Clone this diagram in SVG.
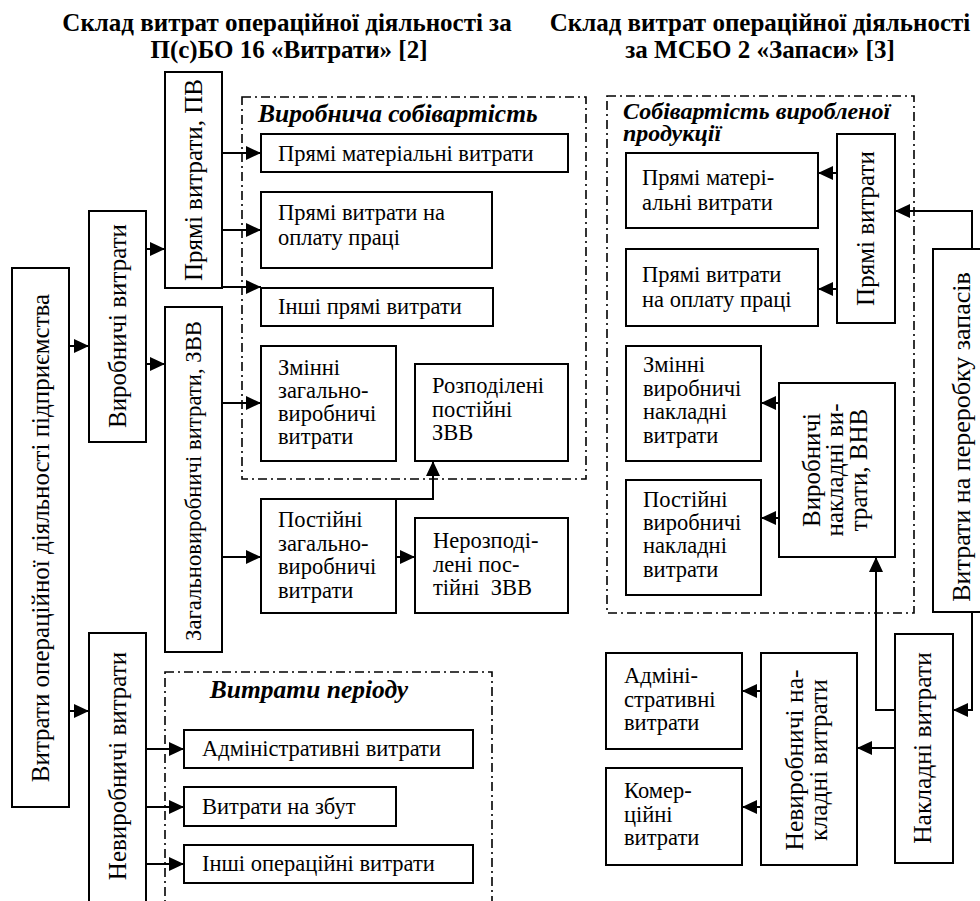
<svg xmlns="http://www.w3.org/2000/svg" width="980" height="901" viewBox="0 0 980 901" font-family="Liberation Serif, Times New Roman, serif" font-size="22.5">
<defs>
<marker id="ah" markerUnits="userSpaceOnUse" markerWidth="15" markerHeight="14" refX="15" refY="7" orient="auto">
<path d="M0,0 L15,7 L0,14 z" fill="#000"/>
</marker>
<style>
.t{font-weight:bold;text-anchor:middle;font-size:25px}
.h{font-weight:bold;font-style:italic;font-size:24px}
.b{fill:#fff;stroke:#000;stroke-width:2}
.g{fill:none;stroke:#000;stroke-width:1.6;stroke-dasharray:9,4,2,4}
.c path{fill:none;stroke:#000;stroke-width:2;marker-end:url(#ah)}
.v{text-anchor:middle;font-size:25px}
</style>
</defs>
<rect width="980" height="901" fill="#fff"/>
<g id="titles">
<text class="t" x="287" y="31">Склад витрат операційної діяльності за</text>
<text class="t" x="289" y="58">П(с)БО 16 «Витрати» [2]</text>
<text class="t" x="760" y="31">Склад витрат операційної діяльності</text>
<text class="t" x="760" y="58">за МСБО 2 «Запаси» [3]</text>
</g>
<g id="group-prod-cost">
<rect class="g" x="242" y="97" width="344" height="382"/>
<text class="h" x="258" y="122" style="font-size:25.5px">Виробнича собівартість</text>
</g>
<g id="group-period">
<rect class="g" x="165" y="672" width="327" height="260"/>
<text class="h" x="309" y="698" text-anchor="middle" style="font-size:25.5px">Витрати періоду</text>
</g>
<g id="group-product-cost">
<rect class="g" x="607" y="96" width="307" height="517"/>
<text class="h" x="623" y="119">Собівартість виробленої</text>
<text class="h" x="623" y="141">продукції</text>
</g>
<g id="n-main"><rect class="b" x="12" y="268" width="57" height="539"/><text class="v" transform="translate(40,538) rotate(-90)" y="8.5">Витрати операційної діяльності підприємства</text></g>
<g id="n-prod"><rect class="b" x="89" y="211" width="57" height="231"/><text class="v" transform="translate(117,326) rotate(-90)" y="8.5">Виробничі витрати</text></g>
<g id="n-nonprod"><rect class="b" x="89" y="633" width="57" height="290"/><text class="v" transform="translate(117,766) rotate(-90)" y="8.5">Невиробничі витрати</text></g>
<g id="n-pv"><rect class="b" x="165" y="72" width="57" height="216"/><text class="v" transform="translate(193.5,180) rotate(-90)" y="8.5">Прямі витрати, ПВ</text></g>
<g id="n-zvv"><rect class="b" x="165" y="307" width="57" height="345"/><text class="v" transform="translate(192.5,481) rotate(-90)" y="8" style="font-size:22.7px">Загальновиробничі витрати, ЗВВ</text></g>
<g id="n-pmv"><rect class="b" x="261" y="134" width="307" height="38"/><text x="278" y="161">Прямі матеріальні витрати</text></g>
<g id="n-pvop"><rect class="b" x="261" y="192" width="231" height="76"/><text x="278" y="220">Прямі витрати на</text><text x="278" y="245">оплату праці</text></g>
<g id="n-ipv"><rect class="b" x="261" y="288" width="232" height="38"/><text x="278" y="314">Інші прямі витрати</text></g>
<g id="n-zmzvv"><rect class="b" x="261" y="346" width="135" height="115"/><text x="278" y="375">Змінні</text><text x="278" y="398">загально-</text><text x="278" y="421">виробничі</text><text x="278" y="444">витрати</text></g>
<g id="n-rozp"><rect class="b" x="415" y="364" width="153" height="97"/><text x="432" y="393">Розподілені</text><text x="432" y="416.5">постійні</text><text x="432" y="440">ЗВВ</text></g>
<g id="n-postzvv"><rect class="b" x="261" y="499" width="135" height="114"/><text x="278" y="527">Постійні</text><text x="278" y="550.5">загально-</text><text x="278" y="574">виробничі</text><text x="278" y="597.5">витрати</text></g>
<g id="n-nerozp"><rect class="b" x="415" y="518" width="153" height="95"/><text x="433" y="548">Нерозподі-</text><text x="433" y="572">лені пос-</text><text x="433" y="595">тійні&#160; ЗВВ</text></g>
<g id="n-adm"><rect class="b" x="184" y="730" width="289" height="38"/><text x="202" y="756">Адміністративні витрати</text></g>
<g id="n-zbut"><rect class="b" x="184" y="787" width="212" height="39"/><text x="202" y="814">Витрати на збут</text></g>
<g id="n-insh"><rect class="b" x="184" y="845" width="289" height="38"/><text x="202" y="871">Інші операційні витрати</text></g>
<g id="r-pmv"><rect class="b" x="626" y="153" width="192" height="75"/><text x="642" y="185">Прямі матері-</text><text x="642" y="210">альні витрати</text></g>
<g id="r-pvop"><rect class="b" x="626" y="249" width="192" height="77"/><text x="642" y="282">Прямі витрати</text><text x="642" y="307">на оплату праці</text></g>
<g id="r-pv"><rect class="b" x="837" y="134" width="58" height="189"/><text class="v" transform="translate(865,228.5) rotate(-90)" y="8.5">Прямі витрати</text></g>
<g id="r-zmvnv"><rect class="b" x="626" y="346" width="135" height="115"/><text x="643" y="372">Змінні</text><text x="643" y="395.5">виробничі</text><text x="643" y="419">накладні</text><text x="643" y="442.5">витрати</text></g>
<g id="r-vnv"><rect class="b" x="779" y="383" width="116" height="174"/><text class="v" transform="translate(837,470) rotate(-90)"><tspan x="0" y="-17">Виробничі</tspan><tspan x="0" y="6">накладні ви-</tspan><tspan x="0" y="30">трати, ВНВ</tspan></text></g>
<g id="r-postvnv"><rect class="b" x="626" y="480" width="135" height="115"/><text x="643" y="507">Постійні</text><text x="643" y="530">виробничі</text><text x="643" y="553">накладні</text><text x="643" y="577">витрати</text></g>
<g id="r-pererob"><rect class="b" x="933" y="249" width="60" height="363"/><text class="v" transform="translate(961,437) rotate(-90)" y="9" style="font-size:26px">Витрати на переробку запасів</text></g>
<g id="r-nakl"><rect class="b" x="895" y="634" width="58" height="229"/><text class="v" transform="translate(922,748) rotate(-90)" y="9" style="font-size:25.5px">Накладні витрати</text></g>
<g id="r-nevnakl"><rect class="b" x="761" y="653" width="96" height="212"/><text class="v" transform="translate(809,760) rotate(-90)" style="font-size:25.5px"><tspan x="0" y="-6">Невиробничі на-</tspan><tspan x="0" y="18">кладні витрати</tspan></text></g>
<g id="r-adm"><rect class="b" x="606" y="653" width="136" height="96"/><text x="624" y="683">Адміні-</text><text x="624" y="707">стративні</text><text x="624" y="730">витрати</text></g>
<g id="r-kom"><rect class="b" x="606" y="768" width="136" height="97"/><text x="624" y="798">Комер-</text><text x="624" y="822">ційні</text><text x="624" y="845">витрати</text></g>
<g id="connectors" class="c">
<path d="M69,346 H89"/>
<path d="M69,711 H89"/>
<path d="M146,249 H165"/>
<path d="M146,364 H165"/>
<path d="M222,153 H261"/>
<path d="M222,230 H261"/>
<path d="M222,287 H261"/>
<path d="M222,403 H261"/>
<path d="M222,557 H261"/>
<path d="M396,557 H415"/>
<path d="M396,499 H433 V461"/>
<path d="M146,749 H184"/>
<path d="M146,807 H184"/>
<path d="M146,864 H184"/>
<path d="M837,173 H818"/>
<path d="M837,289 H818"/>
<path d="M779,403 H761"/>
<path d="M779,518 H761"/>
<path d="M972,249 V211 H895"/>
<path d="M972,612 V710 H953"/>
<path d="M895,710 H876 V557"/>
<path d="M895,748 H857"/>
<path d="M761,691 H742"/>
<path d="M761,807 H742"/>
</g>
</svg>
